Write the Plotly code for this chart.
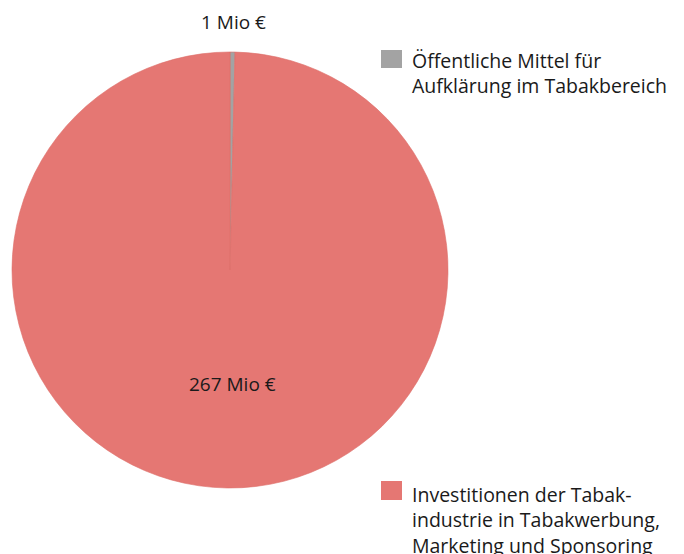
import plotly.graph_objects as go

categories = ["Öffentliche Mittel für<br>Aufklärung im Tabakbereich",
              "Investitionen der Tabak-<br>industrie in Tabakwerbung,<br>Marketing und Sponsoring"]
values = [1, 267]
value_labels = ["1 Mio €", "267 Mio €"]
colors = ["#A3A3A3", "#E57773"]

# the page body adds an 8px margin, so the figure is placed at (8, 8)
OFF = 8
W, H = 684 - OFF, 554 - OFF
FONT = "Open Sans"


def px(x, y):
    """reference-picture pixel -> paper coordinates"""
    return (x - OFF) / W, 1 - (y - OFF) / H


fig = go.Figure()
x0, y1 = px(12, 52)
x1, y0 = px(448, 488)
fig.add_trace(go.Pie(
    values=values,
    labels=categories,
    marker=dict(colors=colors, line=dict(color="#DD6E6A", width=0.6)),
    sort=False,
    direction="clockwise",
    rotation=0,
    textinfo="none",
    hoverinfo="label+value",
    showlegend=False,
    domain=dict(x=[x0, x1], y=[y0, y1]),
))

# value labels
for lab, (x, y) in zip(value_labels, [(233, 22), (232, 384)]):
    ax, ay = px(x, y)
    fig.add_annotation(x=ax, y=ay, xref="paper", yref="paper", text=lab,
                       showarrow=False, xanchor="center", yanchor="middle",
                       font=dict(family=FONT, size=19, color="#1a1a1a"))

# legend entries (split placement as in the reference)
leg_pos = [((50, 68), 73), ((481, 500), 520)]
for cat, col, ((sq0, sq1), ymid) in zip(categories, colors, leg_pos):
    ax0, ay0 = px(381, sq0)
    ax1, ay1 = px(402, sq1)
    fig.add_shape(type="rect", xref="paper", yref="paper",
                  x0=ax0, x1=ax1, y0=ay0, y1=ay1,
                  fillcolor=col, line=dict(width=0))
    tx, ty = px(410, ymid)
    fig.add_annotation(x=tx, y=ty, xref="paper", yref="paper", text=cat,
                       showarrow=False, xanchor="left", yanchor="middle", align="left",
                       font=dict(family=FONT, size=19.5, color="#1a1a1a"))

fig.update_layout(
    width=W, height=H,
    margin=dict(l=0, r=0, t=0, b=0),
    paper_bgcolor="white",
    plot_bgcolor="white",
    font=dict(family=FONT),
)

fig.write_html("out.html")
